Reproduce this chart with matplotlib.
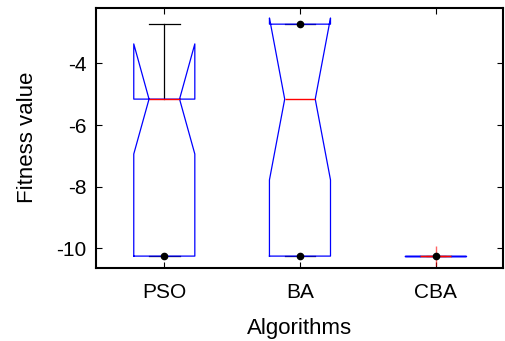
import matplotlib
matplotlib.use("Agg")
import matplotlib.pyplot as plt

# values (MATLAB style notched boxplot)
algorithms = ["PSO", "BA", "CBA"]
medians = [-5.16, -5.16, -10.25]
q1 = [-10.25, -10.25, -10.25]
q3 = [-5.16, -2.73, -10.25]
whis_lo = [-10.25, -10.25, -10.25]
whis_hi = [-2.73, -2.73, -10.25]
notch_lo = [-6.94, -7.78, -10.25]
notch_hi = [-3.37, -2.53, -10.25]
outliers = [[], [], [-10.25]]
# black dots drawn on top of the boxes
dot_groups = [0, 1, 1, 2]
dot_values = [-10.25, -2.73, -10.25, -10.25]

plt.rcParams["font.family"] = ["Liberation Sans", "DejaVu Sans"]
plt.rcParams["axes.unicode_minus"] = False

fig = plt.figure(figsize=(5.05, 3.41), dpi=100)
ax = fig.add_axes([0.191, 0.2155, 0.806, 0.7625])

stats = []
for i, name in enumerate(algorithms):
	stats.append(dict(label=name, med=medians[i], q1=q1[i], q3=q3[i],
		whislo=whis_lo[i], whishi=whis_hi[i], cilo=notch_lo[i], cihi=notch_hi[i],
		fliers=outliers[i]))

positions = list(range(1, len(algorithms) + 1))
ax.bxp(stats, positions=positions, widths=0.45, shownotches=True,
	boxprops=dict(color="blue", linewidth=0.9, zorder=2),
	medianprops=dict(color="red", linewidth=1.0, zorder=2.1),
	whiskerprops=dict(color="black", linewidth=0.9, zorder=1.5),
	capprops=dict(color="black", linewidth=0.9, zorder=1.5),
	flierprops=dict(marker="+", markeredgecolor="red", markersize=14,
		markeredgewidth=1.0, alpha=0.6, zorder=2.2))

ax.plot([positions[g] for g in dot_groups], dot_values, "o", color="black",
	markersize=4.5, zorder=3, linestyle="none")

ax.set_xlim(0.5, 3.5)
ax.set_ylim(-10.62, -2.19)
ax.set_yticks([-10, -8, -6, -4])
ax.set_xticks(positions)
ax.set_xticklabels(algorithms)
ax.tick_params(direction="in", length=4, width=0.8, top=True, right=True, labelsize=15)
ax.tick_params(axis="x", pad=11.5)
ax.tick_params(axis="y", pad=7)
for s in ax.spines.values():
	s.set_linewidth(1.5)

ax.set_xlabel("Algorithms", fontsize=16, labelpad=11)
ax.set_ylabel("Fitness value", fontsize=16, labelpad=13)

plt.savefig("out.png", dpi=100)
